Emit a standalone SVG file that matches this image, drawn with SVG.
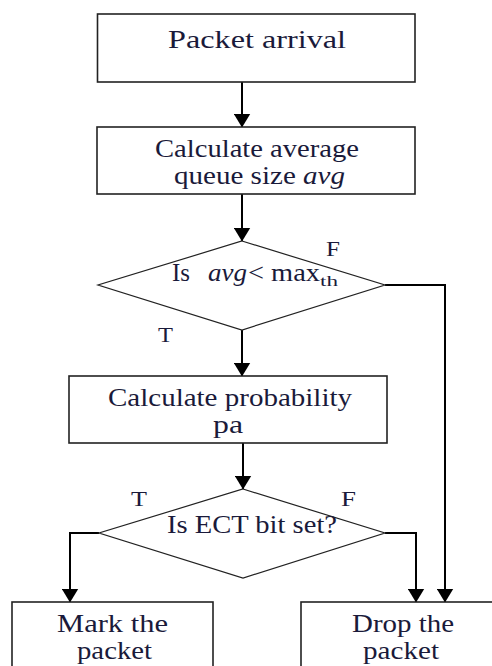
<svg xmlns="http://www.w3.org/2000/svg" width="492" height="666" viewBox="0 0 492 666">
<defs>
<marker id="ah" markerUnits="userSpaceOnUse" markerWidth="14" markerHeight="17" viewBox="0 0 14 17" refX="13.5" refY="8.5" orient="auto">
<path d="M0,0 L14,8.5 L0,17 Z" fill="#000"/>
</marker>
</defs>
<style>
.box{fill:#fff;stroke:#222;stroke-width:1.6}
.dia{fill:#fff;stroke:#222;stroke-width:1.2}
text{font-family:'Liberation Serif','Times New Roman',Times,serif;fill:#1a1a3a}
.t{font-size:25px}
.i{font-style:italic}
.lbl{font-size:22px}
.con{fill:none;stroke:#000;stroke-width:2;marker-end:url(#ah)}
</style>
<rect width="492" height="666" fill="#fff"/>
<g id="connectors">
<path class="con" d="M242,82 V127"/>
<path class="con" d="M242,194 V241"/>
<path class="con" d="M242,330 V376"/>
<path class="con" d="M243,443 V489"/>
<path class="con" d="M385,285 H445 V602"/>
<path class="con" d="M99,533 H70 V602"/>
<path class="con" d="M385,533 H416 V602"/>
</g>
<g id="n1">
<rect class="box" x="97.5" y="14" width="317.5" height="68"/>
<text class="t" x="168" y="48" textLength="178" lengthAdjust="spacingAndGlyphs">Packet arrival</text>
</g>
<g id="n2">
<rect class="box" x="97" y="127" width="318" height="67"/>
<text class="t" x="155" y="157" textLength="204" lengthAdjust="spacingAndGlyphs">Calculate average</text>
<text class="t" x="174" y="184" textLength="171" lengthAdjust="spacingAndGlyphs">queue size <tspan class="i">avg</tspan></text>
</g>
<g id="n3">
<polygon class="dia" points="242,241 385,285 242,330 98,285"/>
<text class="t" x="172" y="281" textLength="18" lengthAdjust="spacingAndGlyphs">Is</text>
<text class="t i" x="208" y="281" textLength="39" lengthAdjust="spacingAndGlyphs">avg</text>
<text class="t" x="248" y="281" textLength="72" lengthAdjust="spacingAndGlyphs">&lt; max</text>
<text class="t" x="320" y="286" style="font-size:15px" textLength="18" lengthAdjust="spacingAndGlyphs">th</text>
<text class="lbl" x="326" y="256" textLength="14" lengthAdjust="spacingAndGlyphs">F</text>
<text class="lbl" x="158" y="342" textLength="15" lengthAdjust="spacingAndGlyphs">T</text>
</g>
<g id="n4">
<rect class="box" x="69" y="376" width="318" height="67"/>
<text class="t" x="108" y="406" textLength="244" lengthAdjust="spacingAndGlyphs">Calculate probability</text>
<text class="t" x="213" y="433" textLength="30" lengthAdjust="spacingAndGlyphs">pa</text>
</g>
<g id="n5">
<polygon class="dia" points="243,489 385,533 243,578 99,533"/>
<text class="t" x="167" y="533" textLength="170" lengthAdjust="spacingAndGlyphs">Is ECT bit set?</text>
<text class="lbl" x="131" y="506" textLength="16" lengthAdjust="spacingAndGlyphs">T</text>
<text class="lbl" x="341" y="506" textLength="15" lengthAdjust="spacingAndGlyphs">F</text>
</g>
<g id="n6">
<rect class="box" x="12" y="602" width="201" height="80"/>
<text class="t" x="57" y="632" textLength="111" lengthAdjust="spacingAndGlyphs">Mark  the</text>
<text class="t" x="77" y="659" textLength="75" lengthAdjust="spacingAndGlyphs">packet</text>
</g>
<g id="n7">
<rect class="box" x="301" y="602" width="204" height="80"/>
<text class="t" x="352" y="632" textLength="102" lengthAdjust="spacingAndGlyphs">Drop the</text>
<text class="t" x="363" y="659" textLength="76" lengthAdjust="spacingAndGlyphs">packet</text>
</g>
</svg>
